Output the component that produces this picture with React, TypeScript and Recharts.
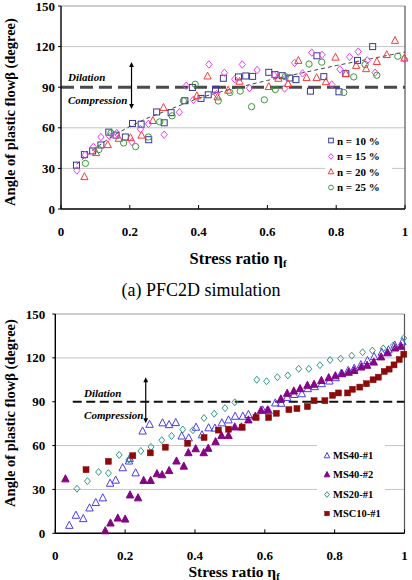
import React from 'react';
import { ScatterChart, Scatter, XAxis, YAxis, ReferenceLine, Legend } from 'recharts';

type Pair = [number, number];
type Pt = { x: number; y: number };
type MarkerFn = (cx: number, cy: number, s: number) => React.ReactElement;

const FONT = '"Liberation Serif", "Times New Roman", Times, serif';

const X_TICKS = [0, 0.2, 0.4, 0.6, 0.8, 1];
const X_TICK_LABELS = ['0', '0.2', '0.4', '0.6', '0.8', '1'];
const Y_TICKS = [0, 30, 60, 90, 120, 150];
const GRID_VALUES = [30, 60, 120];

// (a) PFC2D simulation: stress ratio vs. angle of plastic flow, by porosity n
const n10: Pair[] = [
  [0.045, 32.4], [0.068, 40.2], [0.092, 42.9], [0.116, 47.3], [0.139, 56.8], [0.16, 54.6],
  [0.187, 53.2], [0.208, 63.2], [0.233, 62.7], [0.255, 51.2], [0.278, 71.7], [0.3, 63.7],
  [0.32, 71.2], [0.36, 80], [0.382, 89.8], [0.407, 81.7], [0.428, 84.4], [0.449, 88.5],
  [0.472, 96.6], [0.516, 97.6], [0.537, 98.3], [0.557, 98], [0.604, 101], [0.622, 99.3],
  [0.643, 98.5], [0.665, 96.8], [0.683, 95.6], [0.725, 87.1], [0.744, 113.2], [0.764, 97.8],
  [0.808, 86.6], [0.828, 100], [0.862, 109.8], [0.906, 120],
];
const n15: Pair[] = [
  [0.046, 28.5], [0.07, 40], [0.094, 45.9], [0.116, 53.2], [0.141, 53.7], [0.162, 56.1],
  [0.206, 49.5], [0.231, 59], [0.254, 62.9], [0.3, 54.9], [0.344, 71.5], [0.364, 91],
  [0.385, 80.7], [0.43, 106.8], [0.452, 84.9], [0.475, 100.7], [0.505, 95.9], [0.527, 106.8],
  [0.548, 89.3], [0.57, 102.7], [0.619, 99], [0.65, 89], [0.679, 108], [0.702, 100.2],
  [0.729, 115.6], [0.759, 113.9], [0.787, 92], [0.811, 103.2], [0.839, 112.4], [0.864, 116.3],
  [0.89, 109.8], [0.913, 100.7], [0.998, 111],
];
const n20: Pair[] = [
  [0.068, 23.9], [0.102, 41.7], [0.136, 47.6], [0.168, 52.2], [0.202, 52.7], [0.234, 54.6],
  [0.267, 65.4], [0.298, 75.1], [0.395, 83.7], [0.426, 98.3], [0.455, 82.9], [0.486, 87.8],
  [0.519, 94.4], [0.604, 90.5], [0.632, 96.6], [0.66, 92.7], [0.69, 109.8], [0.714, 97.1],
  [0.743, 97.1], [0.77, 94.1], [0.798, 112.2], [0.828, 100.2], [0.858, 106.1], [0.887, 103.7],
  [0.918, 109], [0.947, 114.1], [0.971, 124.6], [0.998, 111.5],
];
const n25: Pair[] = [
  [0.071, 33.7], [0.11, 43.9], [0.145, 56.1], [0.182, 48.8], [0.217, 46.1], [0.254, 53.2],
  [0.287, 64.4], [0.323, 68.8], [0.356, 80], [0.39, 92.2], [0.457, 79.8], [0.491, 86.1],
  [0.521, 87.1], [0.554, 75.6], [0.591, 80.7], [0.623, 88.3], [0.652, 97.8], [0.721, 107.1],
  [0.758, 108.5], [0.822, 86.1], [0.851, 97.6], [0.884, 106.8], [0.918, 98.8], [0.979, 112.9],
];
// fitted trend through the simulation points
const trend: Pair[] = [
  [0.045, 33], [0.1, 45], [0.15, 54], [0.2, 61], [0.25, 67], [0.3, 72], [0.35, 77], [0.4, 82],
  [0.5, 89], [0.6, 95], [0.7, 100.5], [0.8, 106], [0.9, 111], [1.0, 116],
];

// laboratory tests
const ms40a: Pair[] = [
  [0.04, 5.5], [0.059, 12.4], [0.08, 10.1], [0.098, 17.4], [0.116, 21.1], [0.136, 24.3],
  [0.157, 34.3], [0.173, 36.4], [0.193, 44.9], [0.211, 49.5], [0.213, 51.3], [0.23, 41.4],
  [0.25, 70], [0.27, 74.6], [0.307, 75.6], [0.326, 74.4], [0.345, 75.8], [0.362, 66.6],
  [0.382, 65.3], [0.403, 72.6], [0.42, 67.4], [0.439, 72.2], [0.457, 72], [0.477, 75.6],
  [0.496, 77.6], [0.515, 80.1], [0.537, 80.1], [0.553, 81.3], [0.594, 84.4], [0.611, 83.9],
  [0.63, 89.2], [0.647, 89], [0.664, 93], [0.684, 95], [0.706, 95.5], [0.723, 99],
  [0.743, 100.4], [0.763, 102.4], [0.785, 104.2], [0.803, 106.5], [0.819, 109.5], [0.839, 111.5],
  [0.856, 112.9], [0.875, 115.4], [0.894, 118.2], [0.913, 120.9], [0.935, 123.9], [0.954, 125.5],
  [0.972, 128.8], [0.994, 131],
];
const ms40b: Pair[] = [
  [0.029, 37.3], [0.143, 1.8], [0.158, 7.1], [0.179, 10.5], [0.2, 9.8], [0.214, 26.3],
  [0.237, 24.3], [0.253, 36.2], [0.273, 36.2], [0.291, 40.8], [0.306, 40.1], [0.326, 43],
  [0.347, 49.5], [0.368, 46], [0.381, 55.2], [0.402, 57.9], [0.425, 55.2], [0.438, 58.2],
  [0.459, 62.7], [0.476, 66.9], [0.496, 66.9], [0.514, 72.8], [0.533, 72.8], [0.553, 77.6],
  [0.573, 80.2], [0.589, 84.2], [0.608, 84.5], [0.646, 92], [0.664, 95.8], [0.683, 97.4],
  [0.701, 99], [0.722, 101.3], [0.741, 102], [0.762, 104.6], [0.783, 106.5], [0.802, 107.8],
  [0.821, 109.2], [0.84, 110.2], [0.856, 111.4], [0.876, 113.8], [0.893, 115], [0.912, 117.2],
  [0.933, 120.7], [0.952, 123.5], [0.973, 126.8], [0.99, 128],
];
const ms20: Pair[] = [
  [0.062, 30.5], [0.092, 35.7], [0.124, 41.9], [0.152, 41.2], [0.183, 53.6], [0.211, 50.5],
  [0.245, 56.3], [0.274, 59.1], [0.305, 63.7], [0.333, 66.6], [0.365, 71], [0.394, 70.5],
  [0.426, 78.8], [0.455, 81.8], [0.486, 85.6], [0.514, 89.6], [0.577, 105], [0.605, 104],
  [0.636, 106.8], [0.666, 108], [0.697, 112.5], [0.726, 112.5], [0.758, 115], [0.787, 118.5],
  [0.817, 119.5], [0.849, 121.5], [0.88, 123.8], [0.908, 125], [0.939, 126.5], [0.968, 128.5],
  [0.998, 133.5],
];
const msc10: Pair[] = [
  [0.088, 43.5], [0.152, 49.2], [0.222, 53.1], [0.272, 55], [0.315, 58.9], [0.379, 61.6],
  [0.426, 65.5], [0.467, 70.6], [0.496, 71.2], [0.535, 72.6], [0.575, 79.2], [0.611, 79.2],
  [0.633, 82.1], [0.669, 84.6], [0.692, 85.3], [0.722, 86.7], [0.741, 90.7], [0.772, 90.7],
  [0.794, 94.4], [0.811, 96], [0.837, 96], [0.851, 98.5], [0.872, 100], [0.891, 102.3],
  [0.91, 105], [0.925, 106.8], [0.942, 110.7], [0.956, 112.3], [0.97, 115.2], [0.985, 118.9],
  [0.998, 122.5],
];

const toPts = (a: Pair[]): Pt[] => a.map(([x, y]) => ({ x, y }));

// marker glyphs
const openSquare = (c: string): MarkerFn => (cx, cy, s) => (
  <rect x={cx - s} y={cy - s} width={2 * s} height={2 * s} fill="none" stroke={c} strokeWidth={1} />
);
const filledSquare = (c: string): MarkerFn => (cx, cy, s) => (
  <rect x={cx - s} y={cy - s} width={2 * s} height={2 * s} fill={c} stroke={c} strokeWidth={0.5} />
);
const openDiamond = (c: string): MarkerFn => (cx, cy, s) => (
  <polygon
    points={`${cx},${cy - s * 1.25} ${cx + s * 1.05},${cy} ${cx},${cy + s * 1.25} ${cx - s * 1.05},${cy}`}
    fill="none" stroke={c} strokeWidth={1}
  />
);
const triangle = (c: string, filled: boolean): MarkerFn => (cx, cy, s) => (
  <polygon
    points={`${cx},${cy - s * 1.3} ${cx + s * 1.2},${cy + s} ${cx - s * 1.2},${cy + s}`}
    fill={filled ? c : 'none'} stroke={c} strokeWidth={1}
  />
);
const openCircle = (c: string): MarkerFn => (cx, cy, s) => (
  <circle cx={cx} cy={cy} r={s * 1.05} fill="none" stroke={c} strokeWidth={1} />
);

type Series = { name: string; data: Pair[]; marker: MarkerFn; size: number };

const topSeries: Series[] = [
  { name: 'n = 10 %', data: n10, marker: openSquare('#35379c'), size: 3 },
  { name: 'n = 15 %', data: n15, marker: openDiamond('#f03cf0'), size: 3 },
  { name: 'n = 20 %', data: n20, marker: triangle('#f53a3a', false), size: 3 },
  { name: 'n = 25 %', data: n25, marker: openCircle('#3b9a3b'), size: 3 },
];

const bottomSeries: Series[] = [
  { name: 'MS40-#1', data: ms40a, marker: triangle('#4b3cf0', false), size: 3.1 },
  { name: 'MS40-#2', data: ms40b, marker: triangle('#850585', true), size: 3.1 },
  { name: 'MS20-#1', data: ms20, marker: openDiamond('#2e9a86'), size: 2.8 },
  { name: 'MSC10-#1', data: msc10, marker: filledSquare('#8b0a0a'), size: 3 },
];

function YTitle({ tx, ty }: { tx: number; ty: number }) {
  return (
    <text
      x={tx} y={ty} transform={`rotate(-90 ${tx} ${ty})`} textAnchor="middle"
      fontFamily={FONT} fontWeight="bold" fontSize={14.5} fill="#000"
    >
      Angle of plastic flowβ (degree)
    </text>
  );
}

function XTitle({ tx, ty, size, caption, capX, capY }: { tx: number; ty: number; size: number; caption?: string; capX?: number; capY?: number }) {
  return (
    <g>
      <text x={tx} y={ty} textAnchor="middle" fontFamily={FONT} fontWeight="bold" fontSize={size} fill="#000">
        Stress ratio η<tspan fontSize={size * 0.66} dy={3}>f</tspan>
      </text>
      {caption ? (
        <text x={capX} y={capY} textAnchor="middle" fontFamily={FONT} fontSize={18} fill="#000">
          {caption}
        </text>
      ) : null}
    </g>
  );
}

function ZoneLabels(props: any) {
  const vb = props.viewBox || {};
  const x = (vb.x ?? 0) + props.dx;
  const y = vb.y ?? 0;
  return (
    <g fontFamily={FONT} fontWeight="bold" fontStyle="italic" fontSize={11} fill="#000">
      <text x={x} y={y - props.up}>Dilation</text>
      <text x={x} y={y + props.down}>Compression</text>
    </g>
  );
}

const DoubleArrow = (p: any) => {
  const x = p.x1;
  const top = Math.min(p.y1, p.y2);
  const bot = Math.max(p.y1, p.y2);
  const h = 5;
  const w = 2.4;
  return (
    <g>
      <line x1={x} y1={top + h - 1} x2={x} y2={bot - h + 1} stroke="#000" strokeWidth={1.2} />
      <polygon points={`${x},${top} ${x - w},${top + h} ${x + w},${top + h}`} fill="#000" />
      <polygon points={`${x},${bot} ${x - w},${bot - h} ${x + w},${bot - h}`} fill="#000" />
    </g>
  );
};

function LegendBox({ items, fontSize, rowHeight, padLeft, padTop }: { items: Series[]; fontSize: number; rowHeight: number; padLeft: number; padTop: number }) {
  return (
    <div style={{ background: '#fff', paddingLeft: padLeft, paddingTop: padTop, fontFamily: FONT, fontWeight: 'bold', fontSize, color: '#000' }}>
      {items.map((it) => (
        <div key={it.name} style={{ display: 'flex', alignItems: 'center', height: rowHeight, whiteSpace: 'nowrap' }}>
          <svg width={8} height={9} style={{ marginRight: 2, flex: 'none' }}>
            {it.marker(4, 4.5, 2.3)}
          </svg>
          <span>{it.name}</span>
        </div>
      ))}
    </div>
  );
}

type PanelCfg = {
  top: number;
  height: number;
  margin: { top: number; right: number; left: number; bottom: number };
  yAxisWidth: number;
  xAxisHeight: number;
  yTickMargin: number;
  series: Series[];
  trendLine?: Pair[];
  dash: { stroke: string; width: number; pattern: string; from: number };
  arrow: { x: number; y1: number; y2: number };
  zone: { dx: number; up: number; down: number };
  legend: { left: number; top: number; width: number; height: number; fontSize: number; rowHeight: number; padLeft: number; padTop: number };
  yTitle: { x: number; y: number };
  xTitle: { x: number; y: number; size: number; caption?: string; capX?: number; capY?: number };
};

function Panel({ cfg }: { cfg: PanelCfg }) {
  const tickStyle = { fontFamily: FONT, fontWeight: 'bold', fontSize: 13, fill: '#000' };
  return (
    <div style={{ position: 'absolute', left: 0, top: cfg.top }}>
      <ScatterChart width={412} height={cfg.height} margin={cfg.margin} style={{ overflow: 'visible' }}>
        <XAxis
          type="number" dataKey="x" domain={[0, 1]} ticks={X_TICKS} interval={0}
          tickFormatter={(v: number) => X_TICK_LABELS[X_TICKS.indexOf(v)] ?? String(v)}
          height={cfg.xAxisHeight} tick={tickStyle} tickSize={-4} tickMargin={21.5}
          axisLine={{ stroke: '#000', strokeWidth: 1.4 }} tickLine={{ stroke: '#000' }}
          label={
            <XTitle
              tx={cfg.xTitle.x} ty={cfg.xTitle.y} size={cfg.xTitle.size}
              caption={cfg.xTitle.caption} capX={cfg.xTitle.capX} capY={cfg.xTitle.capY}
            />
          }
        />
        <YAxis
          type="number" dataKey="y" domain={[0, 150]} ticks={Y_TICKS} interval={0}
          width={cfg.yAxisWidth} tick={tickStyle} tickSize={3} tickMargin={cfg.yTickMargin}
          axisLine={{ stroke: '#000', strokeWidth: 1.4 }} tickLine={{ stroke: '#000' }}
          label={<YTitle tx={cfg.yTitle.x} ty={cfg.yTitle.y} />}
        />
        {GRID_VALUES.map((v) => (
          <ReferenceLine key={v} y={v} stroke="#c4c4c4" strokeWidth={1} />
        ))}
        <ReferenceLine y={150} stroke="#9a9a9a" strokeWidth={1} />
        <ReferenceLine x={1} stroke="#555" strokeWidth={1.2} />
        <ReferenceLine
          segment={[{ x: cfg.dash.from, y: 90 }, { x: 1, y: 90 }]}
          stroke={cfg.dash.stroke} strokeWidth={cfg.dash.width} strokeDasharray={cfg.dash.pattern}
          label={<ZoneLabels dx={cfg.zone.dx} up={cfg.zone.up} down={cfg.zone.down} />}
        />
        <ReferenceLine
          segment={[{ x: cfg.arrow.x, y: cfg.arrow.y1 }, { x: cfg.arrow.x, y: cfg.arrow.y2 }]}
          shape={DoubleArrow}
        />
        {cfg.trendLine ? (
          <Scatter
            name="trend" data={toPts(cfg.trendLine)} legendType="none" isAnimationActive={false}
            line={{ stroke: '#444', strokeWidth: 1, strokeDasharray: '4 3' }}
            shape={() => <g />}
          />
        ) : null}
        {cfg.series.map((s) => (
          <Scatter
            key={s.name} name={s.name} data={toPts(s.data)} isAnimationActive={false}
            shape={(p: any) => s.marker(p.cx, p.cy, s.size)}
          />
        ))}
        <Legend
          layout="vertical" align="center" verticalAlign="middle"
          wrapperStyle={{ left: cfg.legend.left, top: cfg.legend.top, width: cfg.legend.width, height: cfg.legend.height }}
          content={() => (
            <LegendBox
              items={cfg.series} fontSize={cfg.legend.fontSize} rowHeight={cfg.legend.rowHeight}
              padLeft={cfg.legend.padLeft} padTop={cfg.legend.padTop}
            />
          )}
        />
      </ScatterChart>
    </div>
  );
}

const topPanel: PanelCfg = {
  top: 0,
  height: 300,
  margin: { top: 6, right: 7, left: 0, bottom: 0 },
  yAxisWidth: 61,
  xAxisHeight: 91,
  yTickMargin: 3,
  series: topSeries,
  trendLine: trend,
  dash: { stroke: '#4a4a4a', width: 3, pattern: '13 6', from: 0 },
  arrow: { x: 0.205, y1: 108.7, y2: 73.9 },
  zone: { dx: 7, up: 6.5, down: 16.5 },
  legend: { left: 325, top: 131, width: 67, height: 68, fontSize: 11, rowHeight: 15.5, padLeft: 2, padTop: 2 },
  yTitle: { x: 15, y: 112 },
  xTitle: { x: 238, y: 264, size: 16.5, caption: '(a) PFC2D simulation', capX: 201, capY: 296 },
};

const bottomPanel: PanelCfg = {
  top: 290,
  height: 290,
  margin: { top: 24, right: 7.5, left: 0, bottom: 0 },
  yAxisWidth: 55.3,
  xAxisHeight: 46.7,
  yTickMargin: 7,
  series: bottomSeries,
  dash: { stroke: '#111', width: 2, pattern: '9 4.5', from: 0.05 },
  arrow: { x: 0.259, y1: 106.7, y2: 75.2 },
  zone: { dx: 11.3, up: 5, down: 17 },
  legend: { left: 317, top: 151, width: 68, height: 84, fontSize: 10.5, rowHeight: 19.3, padLeft: 6, padTop: 5 },
  yTitle: { x: 15, y: 123 },
  xTitle: { x: 234, y: 286.5, size: 15.5 },
};

export default function App() {
  return (
    <div style={{ position: 'absolute', left: 0, top: 0, width: 412, height: 580, background: '#fff', overflow: 'hidden' }}>
      <Panel cfg={topPanel} />
      <Panel cfg={bottomPanel} />
    </div>
  );
}
